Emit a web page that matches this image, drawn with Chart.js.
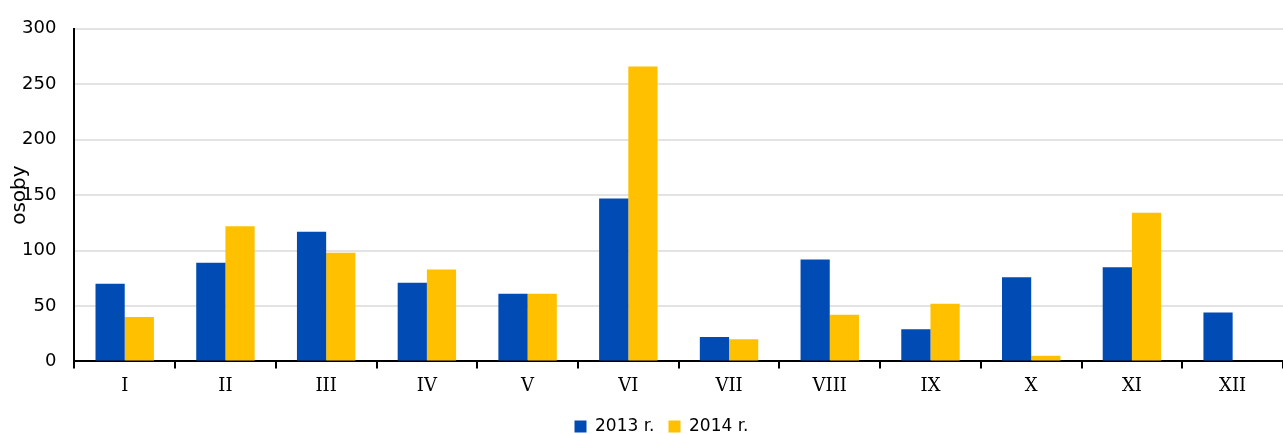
<!DOCTYPE html>
<html>
<head>
<meta charset="utf-8">
<script src="https://cdn.jsdelivr.net/npm/chart.js@4/dist/chart.umd.min.js"></script>
<style>
  html, body { margin: 0; padding: 0; background: #fff; }
  #wrap { width: 1283px; height: 434px; position: relative; }
</style>
</head>
<body>
<div id="wrap"><canvas id="chart"></canvas></div>
<script>
const months = ['I', 'II', 'III', 'IV', 'V', 'VI', 'VII', 'VIII', 'IX', 'X', 'XI', 'XII'];
const values2013 = [70, 89, 117, 71, 61, 147, 22, 92, 29, 76, 85, 44];
const values2014 = [40, 122, 98, 83, 61, 266, 20, 42, 52, 5, 134, 0];
const seriesNames = ['2013 r.', '2014 r.'];
const yTitle = 'osoby';

// axis title sits over the tick labels, so draw it by hand
const yTitlePlugin = {
  id: 'yTitle',
  afterLayout(chart) {
    // nudge legend a bit right, like the original
    const lg = chart.legend;
    lg.left += 18; lg.right += 18;
  },
  afterDraw(chart) {
    const { ctx, chartArea } = chart;
    ctx.save();
    ctx.translate(20, (chartArea.top + chartArea.bottom) / 2);
    ctx.rotate(-Math.PI / 2);
    ctx.font = '20px "DejaVu Sans"';
    ctx.fillStyle = '#000';
    ctx.textAlign = 'center';
    ctx.textBaseline = 'middle';
    ctx.fillText(yTitle, 0, 0);
    ctx.restore();
  }
};

new Chart(document.getElementById('chart').getContext('2d'), {
  type: 'bar',
  data: {
    labels: months,
    datasets: [
      { label: seriesNames[0], data: values2013, backgroundColor: '#004bb4' },
      { label: seriesNames[1], data: values2014, backgroundColor: '#ffc000' }
    ]
  },
  options: {
    responsive: true,
    maintainAspectRatio: false,
    animation: false,
    datasets: { bar: { categoryPercentage: 0.58, barPercentage: 1 } },
    layout: { padding: { left: 4, top: 0, right: 0, bottom: -11 } },
    scales: {
      x: {
        grid: {
          offset: true,
          drawOnChartArea: false,
          drawTicks: true,
          tickLength: 7,
          color: '#000',
          lineWidth: 2
        },
        border: { color: '#000', width: 2 },
        ticks: {
          color: '#000',
          font: { family: '"DejaVu Serif"', size: 18 },
          padding: 7
        }
      },
      y: {
        min: 0,
        max: 300,
        ticks: {
          stepSize: 50,
          color: '#000',
          font: { family: '"DejaVu Sans"', size: 18 },
          padding: 18
        },
        grid: { color: '#e3e3e3', lineWidth: 2, drawTicks: false },
        border: { color: '#000', width: 2 }
      }
    },
    plugins: {
      legend: {
        position: 'bottom',
        labels: {
          color: '#000',
          font: { family: '"DejaVu Sans"', size: 17 },
          boxWidth: 12,
          boxHeight: 12,
          padding: 14
        }
      },
      tooltip: { enabled: false }
    }
  },
  plugins: [yTitlePlugin]
});
</script>
</body>
</html>
